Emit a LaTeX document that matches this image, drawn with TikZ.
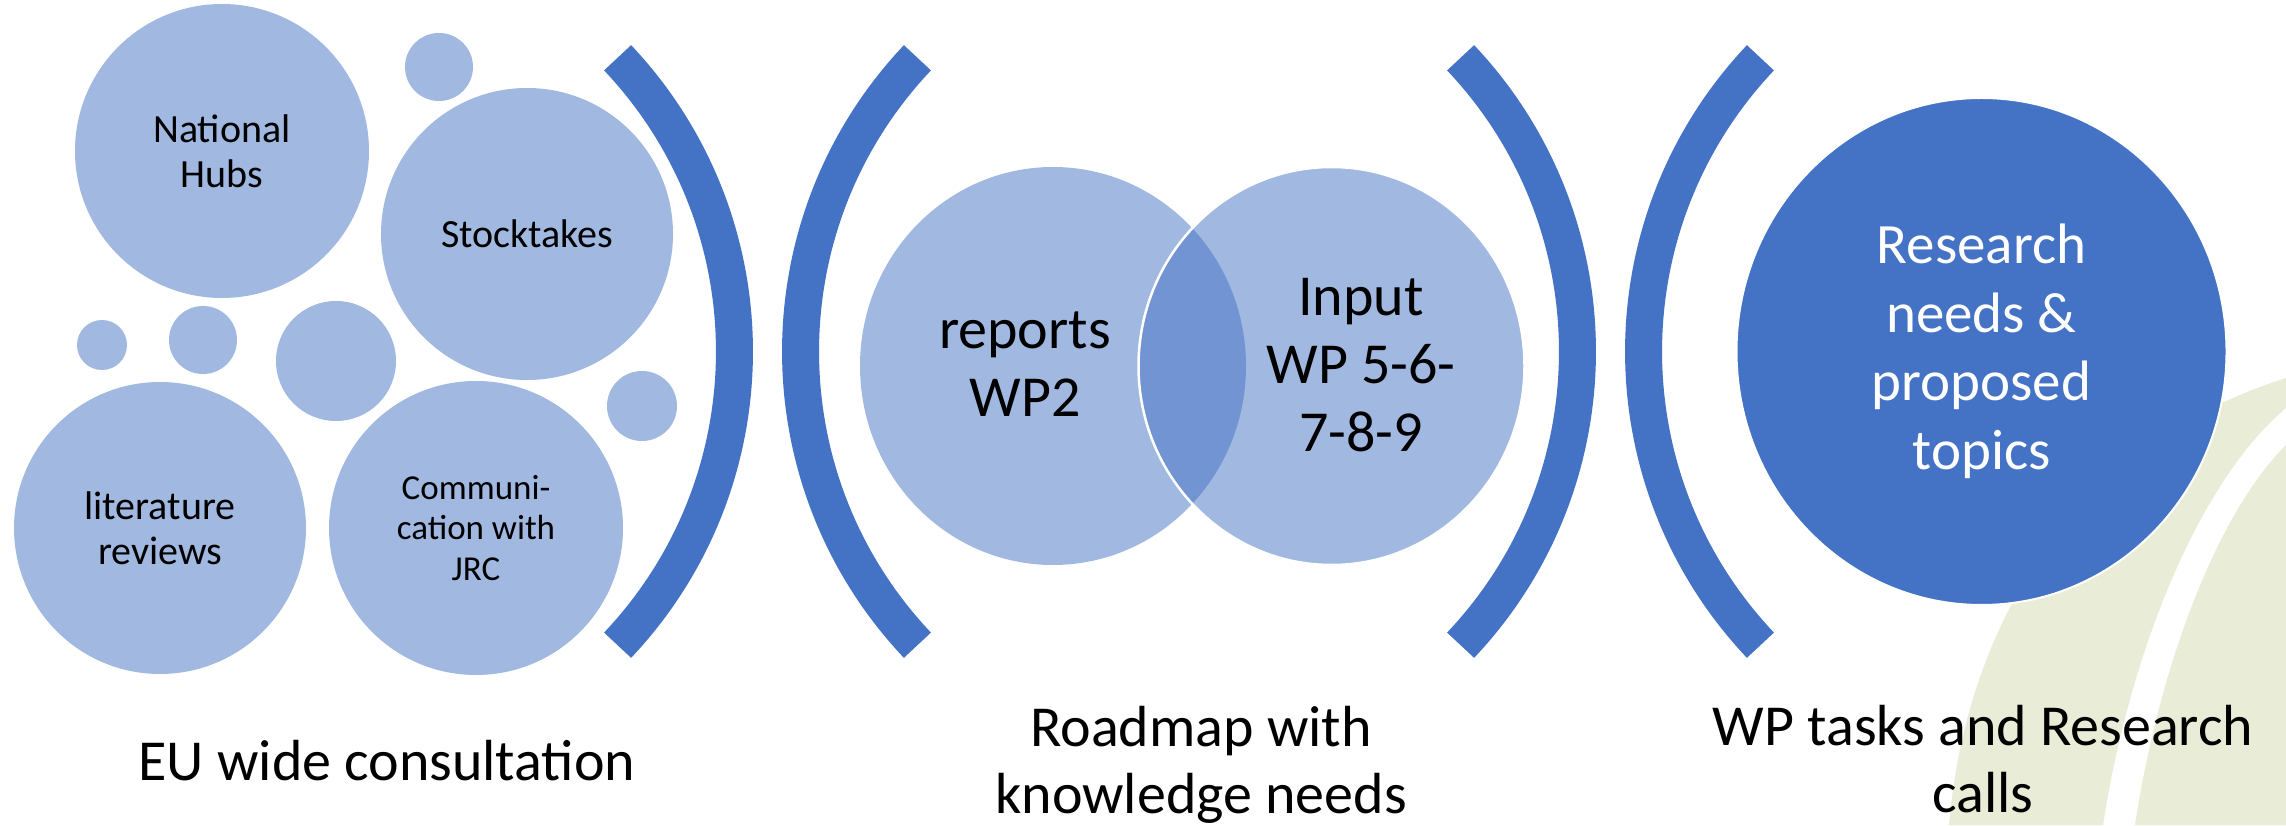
\documentclass[tikz,border=0pt]{standalone}
\usepackage{fontspec}
\setmainfont{Carlito}
\definecolor{acc}{HTML}{4472C4}
\definecolor{lacc}{HTML}{A1B8E1}
\definecolor{leaf}{HTML}{E9ECD6}
\usepackage{tikz}
\usetikzlibrary{shapes.geometric}
\tikzset{
	bubble/.style={circle, fill=lacc, inner sep=0pt, align=center, font=\fontsize{40}{45}\selectfont},
	bracket/.style={acc, line width=37pt},
	vtxt/.style={align=center, font=\fontsize{58}{68}\selectfont},
	foot/.style={align=center, font=\fontsize{58}{67}\selectfont},
}

\begin{document}
\begin{tikzpicture}[x=1pt, y=1pt]
	\useasboundingbox (0,0) rectangle (2286,825);
	\fill[white] (0,0) rectangle (2286,825);
	%leaves in the corner
	\fill[leaf] (1949,0) .. controls (1965,185) and (2060,375) .. (2286,447)
	-- (2286,417) .. controls (2200,345) and (2130,175) .. (2103,0) -- cycle;
	\fill[leaf] (2135,0) .. controls (2160,165) and (2220,315) .. (2286,380)
	-- (2286,0) -- cycle;
	%consultation bubbles
	\node[bubble, minimum size=294pt] (hubs) at (222,674) {National\\Hubs};
	\node[bubble, minimum size=292pt] (stock) at (527,591) {Stocktakes};
	\node[bubble, minimum size=292pt] (lit) at (160,297) {literature\\reviews};
	\node[bubble, minimum size=294pt, font=\fontsize{35}{40.5}\selectfont] (comm) at (476,297) {Communi-\\cation with\\JRC};
	\foreach \x/\y/\r in {439/758/34, 102/480/25, 203/485/34, 336/464/60, 642/419/35}
	\fill[lacc] (\x,\y) circle (\r);
	%brackets
	\foreach \cx/\a in {307/0, 1228/180, 1150/0, 2071/180}
	\draw[bracket] (\cx,473.5) ++(\a-43.4:427.5)
	arc[start angle=\a-43.4, delta angle=86.8, radius=427.5];
	%roadmap venn
	\fill[acc, fill opacity=.5] (1053,459) ellipse [x radius=193, y radius=199];
	\filldraw[fill=acc, fill opacity=.5, draw=white, line width=2.5pt] (1331.5,459) ellipse [x radius=193, y radius=199];
	\node[vtxt] (rep) at (1025,461) {reports\\WP2};
	\node[vtxt] (inp) at (1361,460) {Input\\WP 5-6-\\7-8-9};
	%result
	\node[ellipse, fill=acc, draw=white, line width=2pt, minimum width=490pt, minimum height=507pt,
	text=white, align=center, font=\fontsize{57}{68.5}\selectfont] (res) at (1981.5,473.5)
	{Research\\needs \&\\proposed\\topics};
	%captions
	\node[foot, anchor=base] (eu) at (387,45) {EU wide consultation};
	\node[foot] (road) at (1201,60) {Roadmap with\\knowledge needs};
	\node[foot] (calls) at (1983,66) {WP tasks and Research\\calls};
\end{tikzpicture}
\end{document}
